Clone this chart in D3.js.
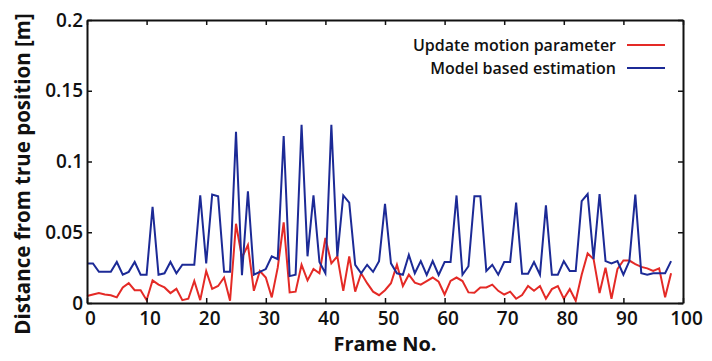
<!DOCTYPE html>
<html><head><meta charset="utf-8">
<script src="https://cdn.jsdelivr.net/npm/d3@7"></script>
<style>html,body{margin:0;padding:0;background:#fff;}svg{display:block;}</style>
</head><body>
<svg id="c" width="712" height="361"></svg>
<script>
const frames = d3.range(0, 99);
const updateMotion = [0.005,0.006,0.007,0.006,0.0055,0.004,0.011,0.014,0.009,0.009,0.002,0.016,0.013,0.011,0.007,0.010,0.002,0.003,0.0156,0.002,0.0226,0.010,0.012,0.018,0.0016,0.056,0.032,0.041,0.0086,0.0226,0.018,0.004,0.025,0.057,0.0075,0.008,0.027,0.016,0.024,0.021,0.046,0.028,0.033,0.0086,0.033,0.008,0.021,0.014,0.008,0.0055,0.009,0.014,0.027,0.012,0.020,0.0144,0.013,0.0155,0.018,0.015,0.006,0.0156,0.018,0.0155,0.0075,0.0072,0.011,0.011,0.013,0.0086,0.006,0.008,0.003,0.0056,0.012,0.0086,0.012,0.003,0.0098,0.012,0.003,0.0098,0.0016,0.020,0.035,0.031,0.007,0.025,0.003,0.024,0.030,0.030,0.0275,0.0255,0.0245,0.0226,0.0245,0.004,0.021];
const modelBased = [0.028,0.028,0.022,0.022,0.022,0.029,0.020,0.022,0.029,0.020,0.020,0.068,0.020,0.021,0.029,0.021,0.027,0.027,0.027,0.076,0.028,0.0766,0.0754,0.022,0.022,0.121,0.0196,0.079,0.020,0.022,0.024,0.033,0.031,0.118,0.019,0.020,0.126,0.033,0.076,0.029,0.021,0.126,0.033,0.076,0.071,0.027,0.021,0.027,0.022,0.0296,0.070,0.028,0.021,0.020,0.034,0.021,0.0296,0.0198,0.0296,0.0198,0.029,0.029,0.076,0.020,0.026,0.0754,0.0754,0.0226,0.027,0.020,0.029,0.029,0.071,0.0207,0.0207,0.029,0.020,0.069,0.020,0.020,0.0296,0.0226,0.0226,0.072,0.077,0.031,0.077,0.0296,0.028,0.0296,0.020,0.0296,0.0766,0.021,0.020,0.021,0.021,0.021,0.0296];
const xTicks = [0,10,20,30,40,50,60,70,80,90,100];
const yTicks = [0,0.05,0.1,0.15,0.2];
const yTickLabels = ["0","0.05","0.1","0.15","0.2"];
const seriesNames = ["Update motion parameter","Model based estimation"];
const seriesColors = ["#e42a26","#1c2a96"];

const svg = d3.select("#c");
const L = 87, R = 683, T = 20, B = 303;
const x = d3.scaleLinear().domain([0,100]).range([L,R]);
const y = d3.scaleLinear().domain([0,0.2]).range([B,T]);
const font = "'Open Sans', 'DejaVu Sans', sans-serif";

const line = d3.line().x((d,i)=>x(frames[i])).y(d=>y(d));
[updateMotion, modelBased].forEach((s,k)=>{
  svg.append("path").datum(s).attr("d", line)
    .attr("fill","none").attr("stroke", seriesColors[k]).attr("stroke-width",2)
    .attr("stroke-linejoin","miter");
});

const tickLen = 5;
const g = svg.append("g");
const xb = g.append("g").attr("transform",`translate(0,${B})`).call(d3.axisBottom(x).tickValues(xTicks).tickSizeInner(-tickLen).tickSizeOuter(0).tickPadding(9));
const xt = g.append("g").attr("transform",`translate(0,${T})`).call(d3.axisTop(x).tickValues(xTicks).tickSizeInner(-tickLen).tickSizeOuter(0).tickFormat(""));
const yl = g.append("g").attr("transform",`translate(${L},0)`).call(d3.axisLeft(y).tickValues(yTicks).tickSizeInner(-tickLen).tickSizeOuter(0).tickPadding(4).tickFormat((d,i)=>yTickLabels[i]));
const yr = g.append("g").attr("transform",`translate(${R},0)`).call(d3.axisRight(y).tickValues(yTicks).tickSizeInner(-tickLen).tickSizeOuter(0).tickFormat(""));
g.selectAll(".domain").attr("stroke","#111").attr("stroke-width",2);
g.selectAll(".tick line").attr("stroke","#111").attr("stroke-width",1.5);
g.selectAll(".tick text").attr("font-family",font).attr("font-size",19).attr("font-weight",600).attr("fill","#111");
xb.selectAll(".tick text").attr("dx",3);

svg.append("text").attr("x",385).attr("y",351).attr("text-anchor","middle")
  .attr("font-family",font).attr("font-size",20).attr("font-weight",700).attr("fill","#111").text("Frame No.");
svg.append("text").attr("transform","translate(30,174) rotate(-90)").attr("text-anchor","middle")
  .attr("font-family",font).attr("font-size",20.5).attr("font-weight",700).attr("fill","#111").text("Distance from true position [m]");

const lg = svg.append("g");
seriesNames.forEach((n,i)=>{
  const yy = 45 + i*23;
  lg.append("text").attr("x",616).attr("y",yy+5.5).attr("text-anchor","end")
    .attr("font-family",font).attr("font-size",16).attr("font-weight",600).attr("fill","#111").text(n);
  lg.append("line").attr("x1",627).attr("x2",665).attr("y1",yy).attr("y2",yy)
    .attr("stroke",seriesColors[i]).attr("stroke-width",2);
});
</script>
</body></html>
